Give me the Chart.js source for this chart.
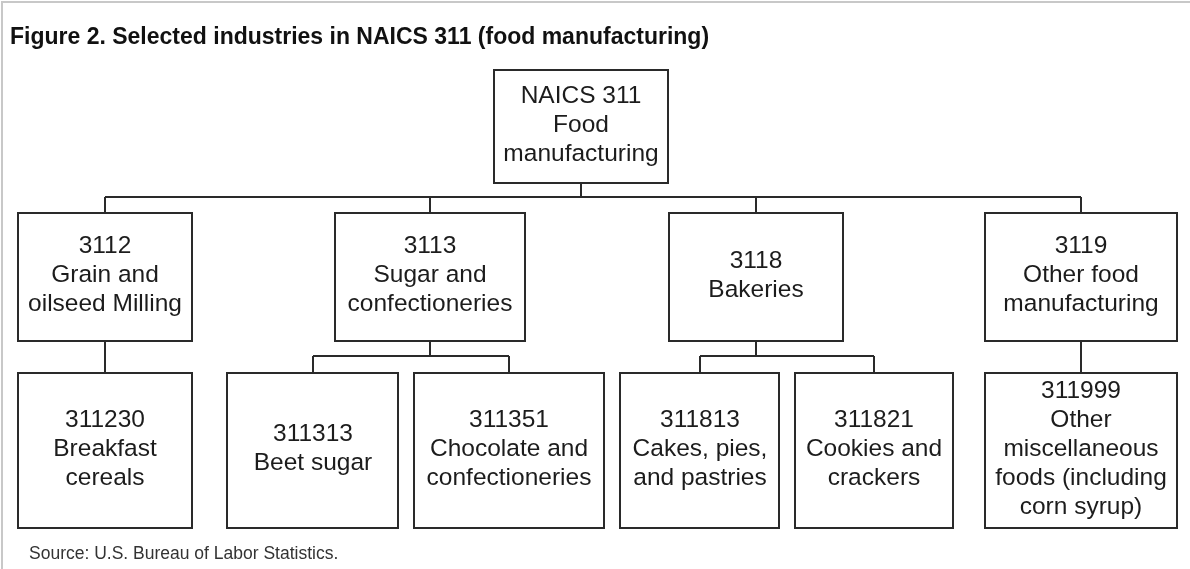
<!DOCTYPE html>
<html>
<head>
<meta charset="utf-8">
<script src="https://cdn.jsdelivr.net/npm/chart.js@4.4.1/dist/chart.umd.min.js"></script>
<style>
  html, body { margin: 0; padding: 0; background: #fff; }
  #wrap { width: 1190px; height: 569px; }
</style>
</head>
<body>
<div id="wrap"><canvas id="chart" width="1190" height="569"></canvas></div>
<script>
const TITLE = 'Figure 2. Selected industries in NAICS 311 (food manufacturing)';
const SOURCE = 'Source: U.S. Bureau of Labor Statistics.';

// tree data: code, name lines, parent index
const CODES = ['NAICS 311', '3112', '3113', '3118', '3119',
  '311230', '311313', '311351', '311813', '311821', '311999'];
const NAMES = [
  ['Food', 'manufacturing'],
  ['Grain and', 'oilseed Milling'],
  ['Sugar and', 'confectioneries'],
  ['Bakeries'],
  ['Other food', 'manufacturing'],
  ['Breakfast', 'cereals'],
  ['Beet sugar'],
  ['Chocolate and', 'confectioneries'],
  ['Cakes, pies,', 'and pastries'],
  ['Cookies and', 'crackers'],
  ['Other', 'miscellaneous', 'foods (including', 'corn syrup)'],
];
const PARENTS = [null, 0, 0, 0, 0, 1, 2, 2, 3, 3, 4];

// layout (in axis units = px of the 1190x569 canvas)
const LEVEL = (i) => (PARENTS[i] === null ? 0 : 1 + LEVEL(PARENTS[i]));
const ROWS = [
  { top: 70, bottom: 183, joint: 197 },
  { top: 213, bottom: 341, joint: 356 },
  { top: 373, bottom: 528 },
];
const SPANS = [
  [494, 668],
  [18, 192], [335, 525], [669, 843], [985, 1177],
  [18, 192], [227, 398], [414, 604], [620, 779], [795, 953], [985, 1177],
];

const LINE = '#2a2a2a';
const INK = '#1c1c1c';
const BOX_FONT = '24.5px "Liberation Sans", Arial, sans-serif';
const LINE_H = 29;

const treePlugin = {
  id: 'tree',
  afterDatasetsDraw(chart) {
    const { ctx } = chart;
    const sx = chart.scales.x;
    const sy = chart.scales.y;
    const px = (v) => Math.round(sx.getPixelForValue(v));
    const py = (v) => Math.round(sy.getPixelForValue(v));

    ctx.save();
    // frame
    ctx.strokeStyle = '#c8c8c8';
    ctx.lineWidth = 2;
    ctx.beginPath();
    ctx.moveTo(2, chart.height); ctx.lineTo(2, 2); ctx.lineTo(chart.width, 2);
    ctx.stroke();

    // title + source
    ctx.fillStyle = '#111';
    ctx.textAlign = 'left';
    ctx.textBaseline = 'alphabetic';
    ctx.font = 'bold 23px "Liberation Sans", Arial, sans-serif';
    ctx.fillText(TITLE, px(10), py(44));
    ctx.fillStyle = '#333';
    ctx.font = '17.5px "Liberation Sans", Arial, sans-serif';
    ctx.fillText(SOURCE, px(29), py(559));

    // connectors
    ctx.strokeStyle = LINE;
    ctx.lineWidth = 2;
    CODES.forEach((_, p) => {
      const kids = PARENTS.map((q, i) => (q === p ? i : -1)).filter((i) => i >= 0);
      if (!kids.length) return;
      const row = ROWS[LEVEL(p)];
      const childRow = ROWS[LEVEL(p) + 1];
      const cx = (SPANS[p][0] + SPANS[p][1]) / 2;
      const xs = kids.map((k) => (SPANS[k][0] + SPANS[k][1]) / 2);
      ctx.beginPath();
      ctx.moveTo(px(cx), py(row.bottom));
      ctx.lineTo(px(cx), py(row.joint));
      ctx.moveTo(px(Math.min(cx, ...xs)), py(row.joint));
      ctx.lineTo(px(Math.max(cx, ...xs)), py(row.joint));
      xs.forEach((x) => {
        ctx.moveTo(px(x), py(row.joint));
        ctx.lineTo(px(x), py(childRow.top));
      });
      ctx.stroke();
    });

    // boxes
    ctx.font = BOX_FONT;
    ctx.textAlign = 'center';
    CODES.forEach((code, i) => {
      const row = ROWS[LEVEL(i)];
      const [l, r] = SPANS[i];
      ctx.fillStyle = '#fff';
      ctx.fillRect(px(l), py(row.top), px(r) - px(l), py(row.bottom) - py(row.top));
      ctx.strokeRect(px(l), py(row.top), px(r) - px(l), py(row.bottom) - py(row.top));
      const lines = [code, ...NAMES[i]];
      const mid = (py(row.top) + py(row.bottom)) / 2;
      const first = mid - ((lines.length - 1) / 2) * LINE_H + 5;
      ctx.fillStyle = INK;
      lines.forEach((t, j) => ctx.fillText(t, px((l + r) / 2), first + j * LINE_H));
    });
    ctx.restore();
  },
};

new Chart(document.getElementById('chart'), {
  type: 'scatter',
  data: {
    datasets: [{
      label: 'nodes',
      data: CODES.map((c, i) => ({ x: (SPANS[i][0] + SPANS[i][1]) / 2, y: ROWS[LEVEL(i)].top })),
      pointRadius: 0,
    }],
  },
  options: {
    responsive: false,
    animation: false,
    devicePixelRatio: 1,
    layout: { padding: 0 },
    plugins: { legend: { display: false }, tooltip: { enabled: false } },
    scales: {
      x: { type: 'linear', min: 0, max: 1190, display: false },
      y: { type: 'linear', min: 0, max: 569, reverse: true, display: false },
    },
  },
  plugins: [treePlugin],
});
</script>
</body>
</html>
